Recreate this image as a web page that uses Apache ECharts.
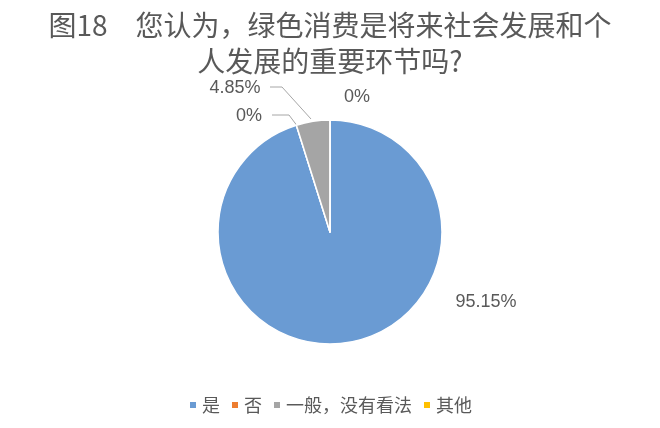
<!DOCTYPE html>
<html>
<head>
<meta charset="utf-8">
<script src="https://cdn.jsdelivr.net/npm/echarts@6/dist/echarts.min.js"></script>
<style>
html,body{margin:0;padding:0;background:#fff;}
#main{width:660px;height:428px;}
</style>
</head>
<body>
<div id="main"></div>
<script>
const titleText = '图18\u3000您认为，绿色消费是将来社会发展和个\n人发展的重要环节吗?';
const categories = ['是', '否', '一般，没有看法', '其他'];
const values = [95.15, 0, 4.85, 0];
const colors = ['#6a9bd3', '#ed7d31', '#a5a5a5', '#ffc000'];

// label placement (layout only)
const labelPos = [
  {x: 486, y: 302},
  {x: 249, y: 116, line: [[272, 115], [289, 115], [298, 127]]},
  {x: 235, y: 88, line: [[270, 87], [282, 87], [311, 119]]},
  {x: 357, y: 97}
];

const chart = echarts.init(document.getElementById('main'));
chart.setOption({
  backgroundColor: '#fff',
  animation: false,
  title: {
    text: titleText,
    left: 'center',
    top: 2,
    textStyle: {
      fontFamily: 'Noto Sans CJK SC',
      fontSize: 28,
      fontWeight: 'normal',
      color: '#595959',
      lineHeight: 36
    }
  },
  legend: {
    bottom: 9,
    left: 'center',
    itemWidth: 8,
    itemHeight: 8,
    itemGap: 10,
    icon: 'rect',
    textStyle: {fontFamily: 'Noto Sans CJK SC', fontSize: 18, color: '#595959'},
    data: categories
  },
  series: [{
    type: 'pie',
    center: [330, 232],
    radius: 112,
    startAngle: 90,
    clockwise: true,
    avoidLabelOverlap: false,
    data: categories.map((c, i) => ({name: c, value: values[i], itemStyle: {color: colors[i]}})),
    itemStyle: {borderColor: '#fff', borderWidth: 1.5},
    label: {
      show: true,
      position: 'outside',
      formatter: p => p.value + '%',
      fontFamily: 'Liberation Sans, Arial, sans-serif',
      fontSize: 18,
      color: '#595959'
    },
    labelLine: {show: true, lineStyle: {color: '#a6a6a6', width: 1}},
    labelLayout: function (params) {
      const p = labelPos[params.dataIndex];
      const r = {x: p.x, y: p.y, align: 'center', verticalAlign: 'middle'};
      if (p.line) r.labelLinePoints = p.line;
      else r.labelLinePoints = [[p.x, p.y], [p.x, p.y], [p.x, p.y]];
      return r;
    }
  }]
});
</script>
</body>
</html>
